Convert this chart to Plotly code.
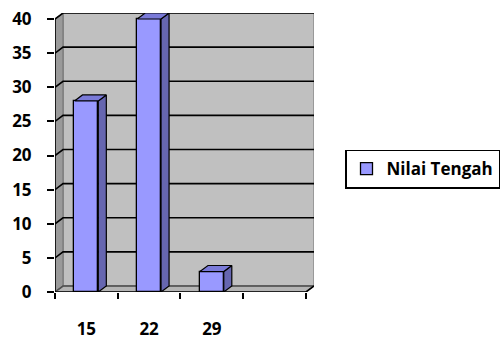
import plotly.graph_objects as go

# Data
categories = ["15", "22", "29", ""]
values = [28, 40, 3]
series_name = "Nilai Tengah"
y_ticks = [0, 5, 10, 15, 20, 25, 30, 35, 40]

# Style / geometry (3D look)
bar_w = 0.38
dxu = 0.128   # depth offset in x units
dyu = 0.88    # depth offset in y units
ymax = 40
x_lo, x_hi = -0.5, len(categories) - 0.5

FRONT = "#9999FF"
SIDE = "#6666B0"
TOP = "#7A7AD8"
WALL = "#C0C0C0"
LWALL = "#9A9A9A"
FLOOR = "#B4B4B4"
FONT = dict(family="Open Sans", size=17, color="black", weight=700)

xs = list(range(len(values)))

fig = go.Figure()

# front faces
fig.add_trace(go.Bar(
    x=xs, y=values, width=bar_w, name=series_name,
    marker=dict(color=FRONT, line=dict(color="black", width=1.3)),
    showlegend=True,
))

# side faces
sx, sy = [], []
for x, v in zip(xs, values):
    r = x + bar_w / 2
    sx += [r, r + dxu, r + dxu, r, r, None]
    sy += [0, dyu, v + dyu, v, 0, None]
fig.add_trace(go.Scatter(x=sx, y=sy, mode="lines", fill="toself", fillcolor=SIDE,
                         line=dict(color="black", width=1.2), showlegend=False, hoverinfo="skip"))
# top faces
tx, ty = [], []
for x, v in zip(xs, values):
    l, r = x - bar_w / 2, x + bar_w / 2
    tx += [l, l + dxu, r + dxu, r, l, None]
    ty += [v, v + dyu, v + dyu, v, v, None]
fig.add_trace(go.Scatter(x=tx, y=ty, mode="lines", fill="toself", fillcolor=TOP,
                         line=dict(color="black", width=1.2), showlegend=False, hoverinfo="skip"))

shapes = []
# back wall
shapes.append(dict(type="rect", xref="x", yref="y", x0=x_lo + dxu, x1=x_hi + dxu,
                   y0=dyu, y1=ymax + dyu, fillcolor=WALL, line=dict(color="#808080", width=1.2),
                   layer="below"))
# left wall
shapes.append(dict(type="path", xref="x", yref="y",
                   path=f"M {x_lo},0 L {x_lo+dxu},{dyu} L {x_lo+dxu},{ymax+dyu} L {x_lo},{ymax} Z",
                   fillcolor=LWALL, line=dict(color="#707070", width=1), layer="below"))
# floor
shapes.append(dict(type="path", xref="x", yref="y",
                   path=f"M {x_lo},0 L {x_hi},0 L {x_hi+dxu},{dyu} L {x_lo+dxu},{dyu} Z",
                   fillcolor=FLOOR, line=dict(color="#707070", width=1), layer="below"))
# gridlines
for v in y_ticks:
    col = "black" if v > 0 else "#505050"
    shapes.append(dict(type="path", xref="x", yref="y",
                       path=f"M {x_lo},{v} L {x_lo+dxu},{v+dyu} L {x_hi+dxu},{v+dyu}",
                       line=dict(color=col, width=1.6), layer="below"))
# axis lines
shapes.append(dict(type="line", xref="x", yref="y", x0=x_lo, x1=x_lo, y0=0, y1=ymax,
                   line=dict(color="black", width=1.6)))
shapes.append(dict(type="path", xref="x", yref="y",
                   path=f"M {x_lo},0 L {x_hi},0 L {x_hi+dxu},{dyu}",
                   line=dict(color="black", width=1.6)))

fig.update_layout(
    width=504, height=340,
    autosize=False,
    margin=dict(l=55, r=190, t=13, b=48, autoexpand=False),
    paper_bgcolor="white", plot_bgcolor="rgba(0,0,0,0)",
    font=FONT,
    shapes=shapes,
    bargap=0,
    showlegend=True,
    legend=dict(
        x=(500 - 55) / 259, y=(292 - 169) / 279, xanchor="right", yanchor="middle",
        bgcolor="white", bordercolor="black", borderwidth=1.5,
        font=FONT, itemwidth=30,
    ),
)
fig.update_xaxes(
    range=[x_lo, x_hi + dxu], automargin=False,
    tickvals=list(range(len(categories))), ticktext=categories,
    ticks="", showline=False, showgrid=False, zeroline=False,
    ticklabelstandoff=25, tickfont=FONT,
    minor=dict(tickvals=[i - 0.5 for i in range(len(categories) + 1)],
               ticks="outside", ticklen=6, tickwidth=1.6, tickcolor="black", showgrid=False),
)
fig.update_yaxes(
    range=[0, ymax + dyu], automargin=False,
    tickvals=y_ticks, ticks="outside", ticklen=7, tickwidth=1.6, tickcolor="black",
    showline=False, showgrid=False, zeroline=False,
    ticklabelstandoff=12, tickfont=FONT,
)

fig.write_html("out.html")
